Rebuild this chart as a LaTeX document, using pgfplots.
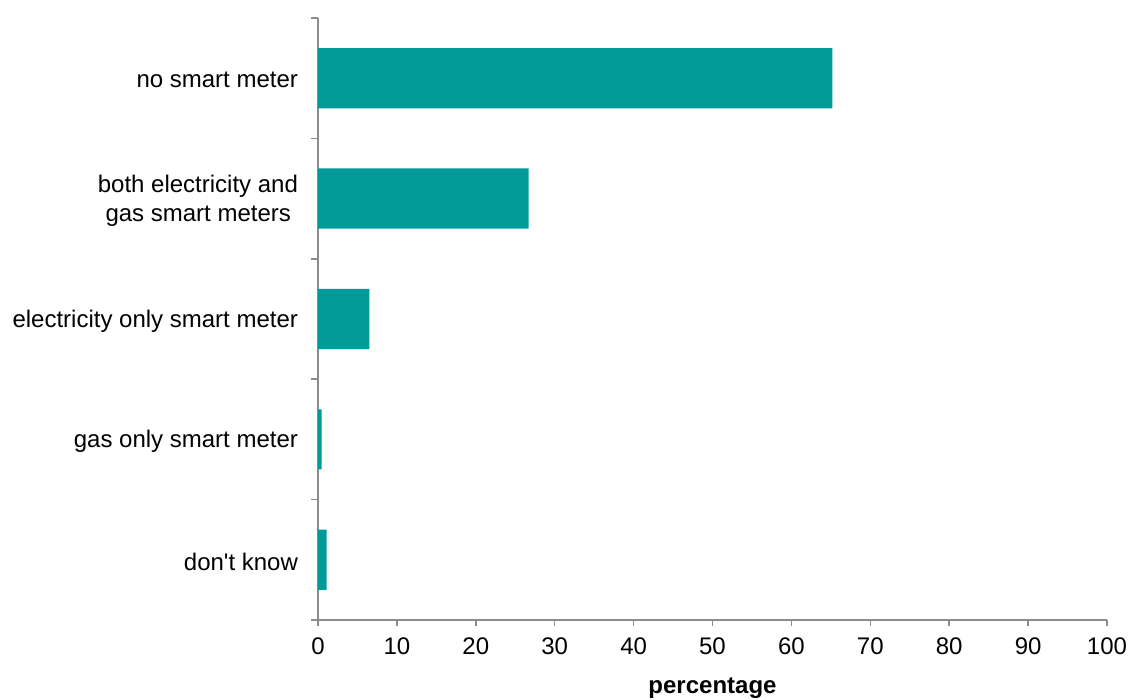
\documentclass[border=0pt]{standalone}
\usepackage{pgfplots}
\pgfplotsset{compat=1.18}
\usepackage{fontspec}
\setmainfont{Liberation Sans}[Ligatures=TeXOff]
\definecolor{barteal}{HTML}{009A98}
\definecolor{axgray}{HTML}{8C8C8C}
\begin{document}
\begin{tikzpicture}
\path[use as bounding box] (-159pt,-40pt) rectangle (405.5pt,310pt);
\begin{axis}[
  at={(0,0)}, anchor=south west,
  scale only axis,
  width=394.5pt, height=301pt,
  xbar, bar width=0.5,
  xmin=0, xmax=100,
  ymin=-0.5, ymax=4.5,
  axis lines=left,
  axis line style={-, draw=axgray, line width=0.8pt},
  xtick={0,10,...,100},
  ytick={0,1,2,3,4},
  yticklabels={don't know, gas only smart meter, electricity only smart meter, {both electricity and\\gas smart meters\hspace*{3.5pt}}, no smart meter},
  minor ytick={-0.5,0.5,1.5,2.5,3.5,4.5},
  tick align=outside,
  major tick length=3pt,
  minor tick length=3.5pt,
  major y tick style={draw=none},
  minor y tick style={draw=axgray, line width=0.8pt},
  major x tick style={draw=axgray, line width=0.8pt},
  /pgf/number format/assume math mode=true,
  tick label style={font=\fontsize{12}{14.5}\selectfont, text=black},
  yticklabel style={align=right, xshift=-3.5pt, yshift=-1pt},
  xticklabel style={yshift=-2.5pt},
  xlabel={\textbf{percentage}},
  xlabel style={at={(axis description cs:0.5,0)}, anchor=center, yshift=-34pt, font=\fontsize{12}{14}\selectfont},
  clip=false,
]
\addplot[fill=barteal, draw=none] coordinates {
  (1.1,0) (0.45,1) (6.5,2) (26.7,3) (65.2,4)
};
\end{axis}
\end{tikzpicture}
\end{document}
